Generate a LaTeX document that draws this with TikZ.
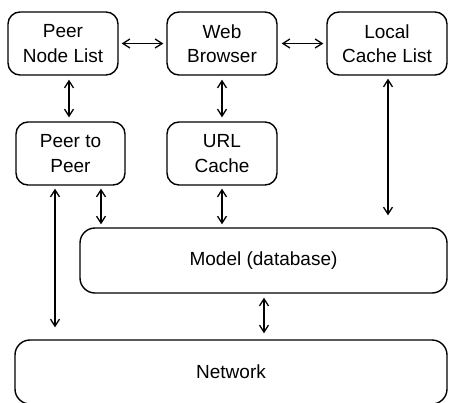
\documentclass[tikz,border=0pt]{standalone}
\usepackage{fontspec}
\setmainfont{Liberation Sans}
\usetikzlibrary{arrows.meta}
\begin{document}
\begin{tikzpicture}[x=1pt,y=-1pt,
  box/.style={draw, line width=1.4pt, rounded corners=12pt, align=center,
    font=\fontsize{19}{24.5}\selectfont, inner sep=0pt},
  arr/.style={line width=1.3pt, {Straight Barb[length=7pt,width=9pt,line width=1.3pt]}-{Straight Barb[length=7pt,width=9pt,line width=1.3pt]}}
]
\useasboundingbox (0,0) rectangle (449,402);
\node[box, minimum width=110pt, minimum height=63pt] (pnl) at (63,43.5) {Peer\\Node List};
\node[box, minimum width=110pt, minimum height=63pt] (wb) at (222,43.5) {Web\\Browser};
\node[box, minimum width=120pt, minimum height=63pt] (lcl) at (387,43.5) {Local\\Cache List};
\node[box, minimum width=109pt, minimum height=63pt] (p2p) at (70.5,153.5) {Peer to\\Peer};
\node[box, minimum width=110pt, minimum height=63pt] (url) at (222,153.5) {URL\\Cache};
\node[box, rounded corners=15pt, minimum width=367pt, minimum height=65pt] (model) at (263.5,260.5) {Model (database)};
\node[box, rounded corners=15pt, minimum width=432pt, minimum height=64pt] (net) at (231,372) {Network};
% anchor points for connectors
\coordinate (lclS) at ([xshift=1pt]lcl.south);
\coordinate (p2pL) at ([xshift=-15.5pt]p2p.south);
\coordinate (p2pR) at ([xshift=30.5pt]p2p.south);
\coordinate (modS) at ([xshift=0.5pt]model.south);
% arrows
\draw[arr, shorten <=3pt, shorten >=3pt] (pnl.east) -- (wb.west);
\draw[arr, shorten <=4pt, shorten >=3pt] (wb.east) -- (lcl.west);
\draw[arr, shorten <=4pt, shorten >=4pt] ([xshift=6pt]pnl.south) -- ([xshift=-1.5pt]p2p.north);
\draw[arr, shorten <=4pt, shorten >=4pt] (wb.south) -- (url.north);
\draw[arr, shorten <=3pt, shorten >=12pt] (lclS) -- (model.north -| lclS);
\draw[arr, shorten <=3pt, shorten >=12pt] (p2pL) -- (net.north -| p2pL);
\draw[arr, shorten <=3pt, shorten >=3pt] (p2pR) -- (model.north -| p2pR);
\draw[arr, shorten <=3pt, shorten >=3pt] (url.south) -- (model.north -| url.south);
\draw[arr, shorten <=4pt, shorten >=6pt] (modS) -- (net.north -| modS);
\end{tikzpicture}
\end{document}
